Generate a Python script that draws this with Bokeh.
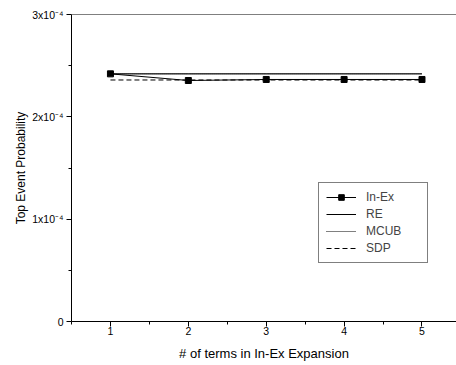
from bokeh.plotting import figure
from bokeh.models import FixedTicker, Span, Legend
from bokeh.embed import file_html
from bokeh.resources import INLINE

# ---- data ----
terms = [1, 2, 3, 4, 5]
in_ex = [2.42e-4, 2.355e-4, 2.365e-4, 2.365e-4, 2.365e-4]
re_vals = [2.42e-4, 2.42e-4, 2.42e-4, 2.42e-4, 2.42e-4]
mcub = [2.42e-4, 2.42e-4, 2.42e-4, 2.42e-4, 2.42e-4]
sdp = [2.36e-4, 2.36e-4, 2.36e-4, 2.36e-4, 2.36e-4]

x_ticks = [1, 2, 3, 4, 5]
x_minor = [0.5, 1.5, 2.5, 3.5, 4.5, 5.5]
y_ticks = [0, 1e-4, 2e-4, 3e-4]
y_minor = [0.5e-4, 1.5e-4, 2.5e-4]
y_tick_labels = ["0", "1x10\u207b\u2074", "2x10\u207b\u2074", "3x10\u207b\u2074"]

FONT = "Liberation Sans"

p = figure(width=456, height=365, x_range=(0.5, 5.443), y_range=(0, 3e-4),
           output_backend="svg", toolbar_location=None,
           min_border_left=71, min_border_right=0, min_border_top=14, min_border_bottom=44)
p.outline_line_color = None
p.grid.visible = False
p.background_fill_color = "white"
p.border_fill_color = "white"

p.add_layout(Span(location=3e-4, dimension="width", line_color="black", line_width=1.2))

r_inex_l = p.line(terms, in_ex, line_color="black", line_width=1)
r_inex_m = p.scatter(terms, in_ex, marker="square", size=6, fill_color="black", line_color="black")
r_re = p.line(terms, re_vals, line_color="black", line_width=1)
r_mcub = p.line(terms, mcub, line_color="black", line_width=1, line_dash="1 1")
r_sdp = p.line(terms, sdp, line_color="black", line_width=1, line_dash="5 3")

legend = Legend(items=[("In-Ex", [r_inex_l, r_inex_m]), ("RE", [r_re]),
                       ("MCUB", [r_mcub]), ("SDP", [r_sdp])],
                location=(247, 58))
legend.border_line_color = "black"
legend.border_line_width = 1
legend.background_fill_alpha = 1
legend.label_text_font = FONT
legend.label_text_font_size = "12px"
legend.glyph_width = 30
legend.glyph_height = 14
legend.label_height = 14
legend.label_width = 54
legend.label_standoff = 10
legend.padding = 7
legend.spacing = 3
legend.margin = 0
p.add_layout(legend, "center")

xa = p.xaxis[0]
xa.ticker = FixedTicker(ticks=x_ticks, minor_ticks=x_minor)
xa.axis_label = "# of terms in In-Ex Expansion"
ya = p.yaxis[0]
ya.ticker = FixedTicker(ticks=y_ticks, minor_ticks=y_minor)
ya.major_label_overrides = dict(zip(y_ticks, y_tick_labels))
ya.axis_label = "Top Event Probability"

for ax in (xa, ya):
    ax.axis_line_color = "black"
    ax.axis_line_width = 1
    ax.major_tick_line_color = "black"
    ax.minor_tick_line_color = "black"
    ax.major_tick_out = 5
    ax.major_tick_in = 0
    ax.minor_tick_out = 3
    ax.minor_tick_in = 0
    ax.major_label_text_font = FONT
    ax.major_label_text_font_size = "10.5px"
    ax.major_label_text_color = "black"
    ax.axis_label_text_font = FONT
    ax.axis_label_text_font_style = "normal"
    ax.axis_label_text_color = "black"

xa.axis_label_text_font_size = "13px"
ya.axis_label_text_font_size = "12px"
xa.major_label_standoff = 0
xa.axis_label_standoff = 8
ya.major_label_standoff = 3
ya.axis_label_standoff = 1

open("out.html", "w").write(file_html(p, INLINE))
